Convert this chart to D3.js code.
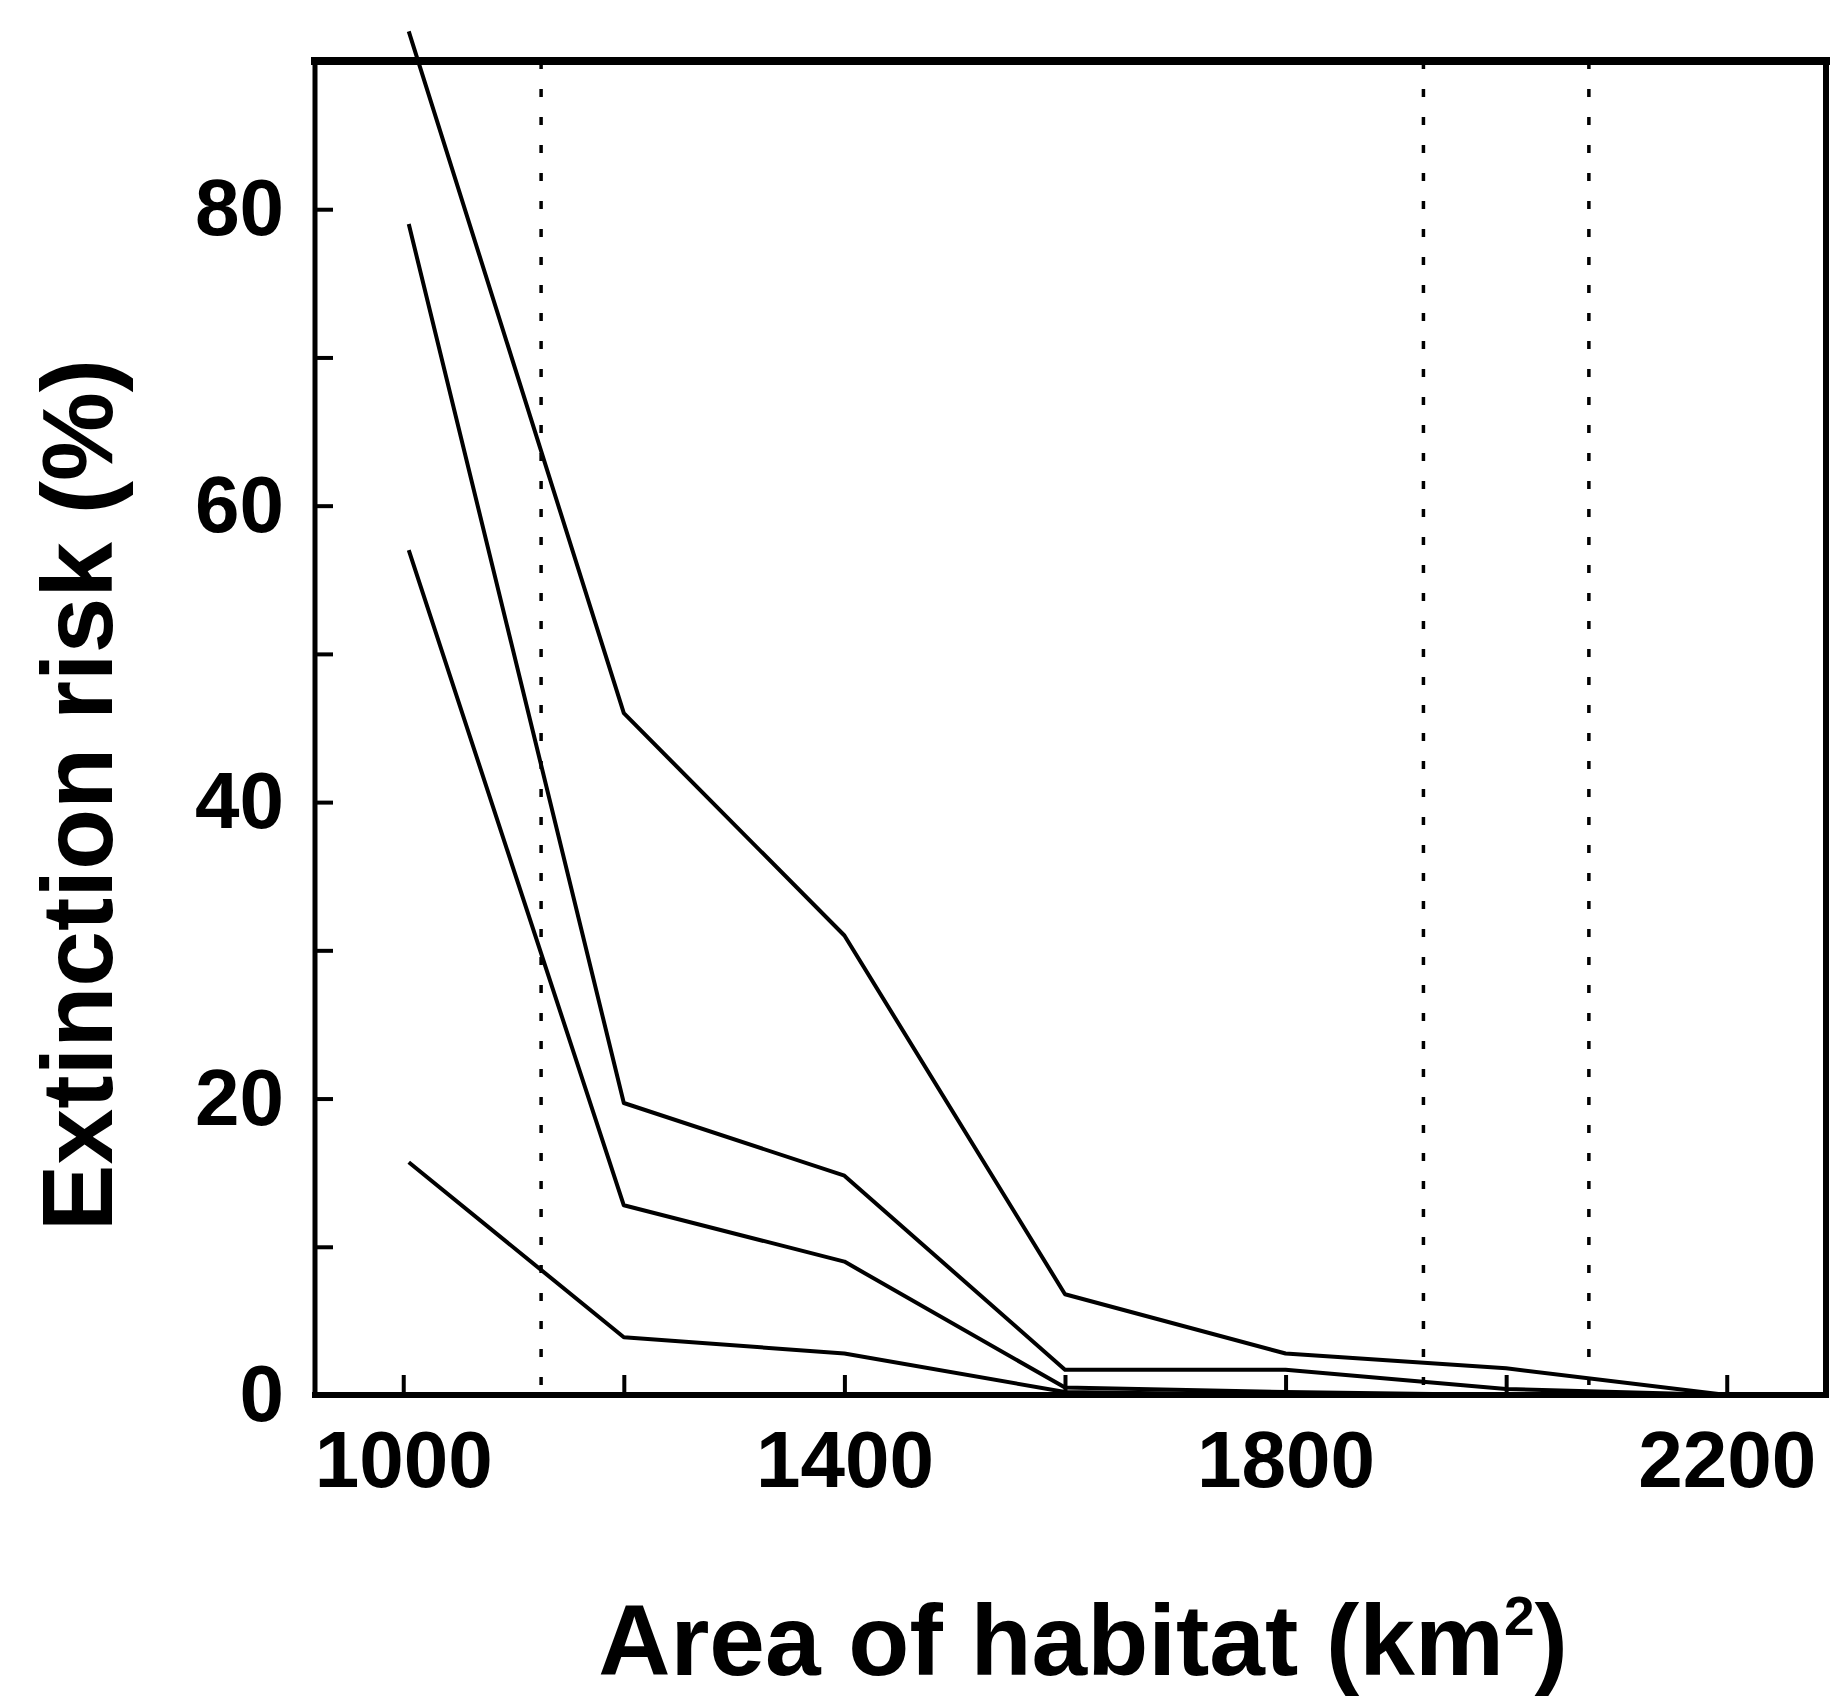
<!DOCTYPE html>
<html lang="en">
	<head>
		<meta charset="UTF-8">
		<title>Extinction risk</title>
		<script src="https://d3js.org/d3.v7.min.js"></script>
		<style>
			body { margin: 0; background: #fff; }
			text { font-family: "Liberation Sans", Arial, sans-serif; font-weight: bold; fill: #000; }
		</style>
	</head>
	<body>
		<div id="chart"></div>
		<script>
			// area of habitat (km2) where each curve was evaluated
			const area = [1005, 1200, 1400, 1600, 1800, 2000, 2200];

			// extinction risk (%), one array per curve
			const risk1 = [92, 46, 31, 6.8, 2.8, 1.8, 0];
			const risk2 = [79, 19.7, 14.8, 1.7, 1.7, 0.4, 0];
			const risk3 = [57, 12.8, 9.0, 0.5, 0.2, 0, 0];
			const risk4 = [15.7, 3.9, 2.8, 0.2, 0, 0, 0];

			// dotted reference lines
			const refAreas = [1125, 1925, 2075];

			const xTicks = [1000, 1200, 1400, 1600, 1800, 2000, 2200];
			const xLabels = [1000, 1400, 1800, 2200];
			const yTicks = [0, 10, 20, 30, 40, 50, 60, 70, 80];
			const yLabels = [0, 20, 40, 60, 80];

			const W = 1833, H = 1698;

			const svg = d3.select("#chart")
				.append("svg")
				.attr("width", W)
				.attr("height", H);

			const x = d3.scaleLinear()
				.domain([920, 2290])
				.range([315, 1826]);

			const y = d3.scaleLinear()
				.domain([0, 90])
				.range([1395, 61]);

			// dotted verticals
			svg.selectAll(".ref")
				.data(refAreas)
				.join("line")
				.attr("x1", d => x(d)).attr("x2", d => x(d))
				.attr("y1", y(90)).attr("y2", y(0))
				.attr("stroke", "#000")
				.attr("stroke-width", 3.5)
				.attr("stroke-dasharray", "8,20");

			// axes, ticks pointing into the box
			const yAxis = svg.append("g")
				.attr("transform", `translate(${x(920)},0)`)
				.call(d3.axisLeft(y).tickValues(yTicks).tickSize(-18).tickPadding(31)
					.tickFormat(d => yLabels.includes(d) ? d : ""));

			const xAxis = svg.append("g")
				.attr("transform", `translate(0,${y(0)})`)
				.call(d3.axisBottom(x).tickValues(xTicks).tickSize(-20).tickPadding(35)
					.tickFormat(d => xLabels.includes(d) ? d : ""));

			[yAxis, xAxis].forEach(g => {
				g.select(".domain").remove();
				g.selectAll(".tick line").attr("stroke", "#000").attr("stroke-width", 4);
				g.selectAll(".tick text").style("font-size", "80px").attr("fill", "#000");
			});

			// curves
			const line = d3.line()
				.x((d, i) => x(area[i]))
				.y(d => y(d));

			[risk1, risk2, risk3, risk4].forEach(r => {
				svg.append("path")
					.datum(r)
					.attr("fill", "none")
					.attr("stroke", "#000")
					.attr("stroke-width", 4)
					.attr("stroke-linejoin", "round")
					.attr("d", line);
			});

			// box
			const x0 = x(920), x1 = x(2290), y0 = y(0), y1 = y(90);
			const frame = [
				{ a: [x0, y1, x1, y1], w: 8 },
				{ a: [x0, y0, x1, y0], w: 6 },
				{ a: [x0, y1, x0, y0], w: 5 },
				{ a: [x1, y1, x1, y0], w: 6 }
			];
			svg.selectAll(".frame")
				.data(frame)
				.join("line")
				.attr("x1", d => d.a[0]).attr("y1", d => d.a[1])
				.attr("x2", d => d.a[2]).attr("y2", d => d.a[3])
				.attr("stroke", "#000")
				.attr("stroke-width", d => d.w)
				.attr("stroke-linecap", "square");

			// axis titles
			svg.append("text")
				.attr("transform", "translate(112,795) rotate(-90)")
				.attr("text-anchor", "middle")
				.style("font-size", "100px")
				.text("Extinction risk (%)");

			const xt = svg.append("text")
				.attr("x", 1083)
				.attr("y", 1675)
				.attr("text-anchor", "middle")
				.style("font-size", "100px");
			xt.append("tspan").text("Area of habitat (km");
			xt.append("tspan").attr("dy", -40).style("font-size", "55px").text("2");
			xt.append("tspan").attr("dy", 40).text(")");
		</script>
	</body>
</html>
